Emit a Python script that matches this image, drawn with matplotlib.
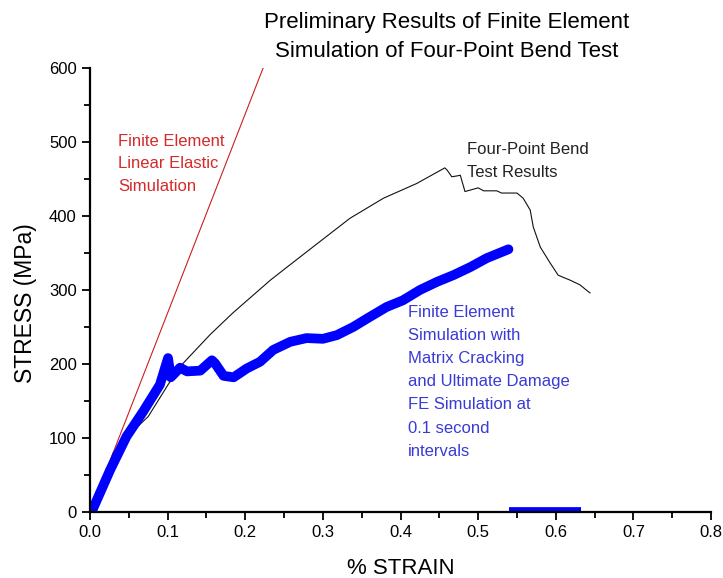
import numpy as np
import matplotlib.pyplot as plt

plt.rcParams['font.family'] = ['Liberation Sans', 'DejaVu Sans']

# Four-point bend test (measured)
test_strain = [0.0, 0.03, 0.056, 0.075, 0.1005, 0.120, 0.146, 0.155, 0.184, 0.232,
               0.249, 0.287, 0.335, 0.378, 0.421, 0.457, 0.460, 0.466, 0.472, 0.477,
               0.483, 0.500, 0.507, 0.524, 0.530, 0.550, 0.558, 0.567, 0.571, 0.580,
               0.593, 0.603, 0.619, 0.631, 0.644]
test_stress = [0, 80, 110, 129, 172, 201, 230, 240, 269, 313,
               327, 358, 397, 424, 444, 465, 462, 453, 454, 455,
               433, 438, 434, 434, 431, 431, 424, 408, 385, 358,
               336, 320, 313, 307, 296]

# FE linear elastic simulation
elastic_strain = [0.0, 0.223]
elastic_stress = [0, 600]

# FE simulation with matrix cracking and ultimate damage
fe_strain = [0.002, 0.026, 0.047, 0.068, 0.090, 0.1005, 0.104, 0.116, 0.125, 0.142,
             0.157, 0.161, 0.172, 0.185, 0.202, 0.219, 0.236, 0.258, 0.279, 0.300,
             0.318, 0.339, 0.361, 0.382, 0.403, 0.425, 0.447, 0.468, 0.490, 0.511,
             0.539]
fe_stress = [0, 57, 102, 135, 172, 208, 182, 195, 190, 191,
             205, 201, 184, 182, 194, 203, 219, 230, 235, 234,
             239, 250, 264, 277, 286, 300, 311, 320, 331, 343,
             355]
# failed elements after ultimate damage
fe_fail_strain = [0.540, 0.633]
fe_fail_stress = [0, 0]

fig = plt.figure(figsize=(7.23, 5.78), dpi=100)
ax = fig.add_axes([0.1245, 0.1142, 0.859, 0.7682])

ax.plot(elastic_strain, elastic_stress, color='#cc1f1f', lw=0.8)
ax.plot(test_strain, test_stress, color='#111111', lw=0.8)
ax.plot(fe_strain, fe_stress, color='#0000ff', lw=7, solid_capstyle='round', solid_joinstyle='round')
ax.plot(fe_fail_strain, fe_fail_stress, color='#0000ff', lw=7, solid_capstyle='butt')

ax.set_xlim(0, 0.8)
ax.set_ylim(0, 600)
ax.set_xticks(np.arange(0, 0.81, 0.1))
ax.set_xticks(np.arange(0.05, 0.8, 0.1), minor=True)
ax.set_yticks(np.arange(0, 601, 100))
ax.set_yticks(np.arange(50, 600, 100), minor=True)
ax.set_xticklabels(['%.1f' % v for v in np.arange(0, 0.81, 0.1)])

for s in ['top', 'right']:
    ax.spines[s].set_visible(False)
for s in ['left', 'bottom']:
    ax.spines[s].set_linewidth(1.6)
ax.tick_params(which='major', direction='out', length=6, width=1.3, labelsize=12)
ax.tick_params(which='minor', direction='out', length=4, width=1.3)

ax.set_xlabel('% STRAIN', fontsize=16, labelpad=13)
ax.set_ylabel('STRESS (MPa)', fontsize=16.5)
ax.yaxis.set_label_coords(-0.085, 0.471)

fig.text(0.618, 0.893, 'Preliminary Results of Finite Element\nSimulation of Four-Point Bend Test',
         ha='center', va='bottom', fontsize=16, linespacing=1.5)

ax.text(0.036, 511, 'Finite Element\nLinear Elastic\nSimulation', color='#d42a2a',
        fontsize=12, va='top', linespacing=1.63)
ax.text(0.485, 500, 'Four-Point Bend\nTest Results', color='#222222',
        fontsize=12, va='top', linespacing=1.63)
ax.text(0.410, 280, 'Finite Element\nSimulation with\nMatrix Cracking\nand Ultimate Damage\n'
        'FE Simulation at\n0.1 second\nintervals', color='#3a3ad6',
        fontsize=12, va='top', linespacing=1.68)

fig.savefig('out.png', dpi=100)
